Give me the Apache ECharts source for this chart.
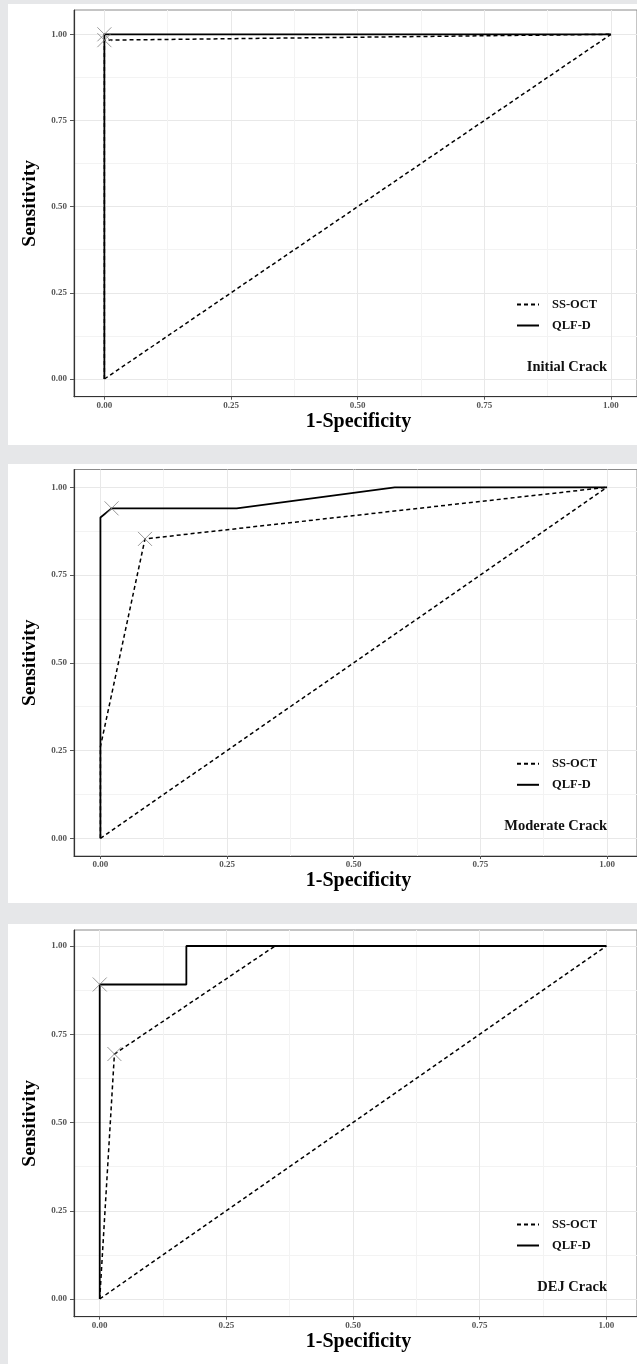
<!DOCTYPE html>
<html><head><meta charset="utf-8">
<script src="https://cdn.jsdelivr.net/npm/echarts@6/dist/echarts.min.js"></script>
<style>html,body{margin:0;padding:0;background:#e6e7e9}#c{width:637px;height:1364px}</style>
</head><body><div id="c"></div>
<script>
// ---- data ----
const majorTicks = [0, 0.25, 0.5, 0.75, 1];
const minorTicks = [0.125, 0.375, 0.625, 0.875];
const tickLabels = ['0.00', '0.25', '0.50', '0.75', '1.00'];
const seriesNames = ['SS-OCT', 'QLF-D'];
const panelLabels = ['Initial Crack', 'Moderate Crack', 'DEJ Crack'];
const xTitle = '1-Specificity';
const yTitle = 'Sensitivity';
const chanceLine = [[0, 0], [1, 1]];

const ssoctInitial = [[0, 0], [0, 0.983], [1, 1]];
const qlfdInitial = [[0, 0], [0, 1], [1, 1]];
const ssoctInitialCut = [[0, 0.983]];
const qlfdInitialCut = [[0, 1]];

const ssoctModerate = [[0, 0], [0, 0.261], [0.088, 0.853], [1, 1]];
const qlfdModerate = [[0, 0], [0, 0.914], [0.022, 0.94], [0.269, 0.94], [0.581, 1], [1, 1]];
const ssoctModerateCut = [[0.088, 0.853]];
const qlfdModerateCut = [[0.022, 0.94]];

const ssoctDEJ = [[0, 0], [0.029, 0.694], [0.346, 1], [1, 1]];
const qlfdDEJ = [[0, 0], [0, 0.891], [0.171, 0.891], [0.171, 1], [1, 1]];
const ssoctDEJCut = [[0.029, 0.694]];
const qlfdDEJCut = [[0, 0.891]];

const panelData = [
  { ssoct: ssoctInitial, qlfd: qlfdInitial, ssoctCut: ssoctInitialCut, qlfdCut: qlfdInitialCut },
  { ssoct: ssoctModerate, qlfd: qlfdModerate, ssoctCut: ssoctModerateCut, qlfdCut: qlfdModerateCut },
  { ssoct: ssoctDEJ, qlfd: qlfdDEJ, ssoctCut: ssoctDEJCut, qlfdCut: qlfdDEJCut }
];

// ---- layout (pixels) ----
const layout = [
  { bg: [8, 4, 629, 441], left: 74, right: 643, top: 10, bottom: 396.7, x0: 104.7, y0: 379, ys: 344.7 },
  { bg: [8, 464, 629, 439], left: 74, right: 643, top: 469.5, bottom: 856, x0: 100.7, y0: 838.3, ys: 351 },
  { bg: [8, 924, 629, 440], left: 74, right: 643, top: 930, bottom: 1316.7, x0: 100, y0: 1299, ys: 353 }
];
const xs = 512;
const FONT = 'Liberation Serif';

const grid = [], xAxis = [], yAxis = [], series = [], legend = [], graphic = [];
const dashed = { color: '#000', width: 1.5, type: [4, 3] };
const solid = { color: '#000', width: 1.8, type: 'solid' };
const xMark = 'path://M0,0L10,10M10,0L0,10';

layout.forEach((L, i) => {
  const xmin = (L.left - L.x0) / xs, xmax = (L.right - L.x0) / xs;
  const ymin = -(L.bottom - L.y0) / L.ys, ymax = (L.y0 - L.top) / L.ys;
  grid.push({ left: L.left, top: L.top, width: L.right - L.left, height: L.bottom - L.top,
    show: true, borderColor: '#8a8a8a', borderWidth: 1, backgroundColor: 'transparent' });
  const fmt = v => { const k = majorTicks.indexOf(v); return k >= 0 ? tickLabels[k] : ''; };
  xAxis.push({ type: 'value', gridIndex: i, position: 'bottom', min: xmin, max: xmax,
    axisLine: { show: true, onZero: false, lineStyle: { color: '#333', width: 1.2 } },
    axisTick: { show: true, length: 3, customValues: majorTicks, lineStyle: { color: '#555' } },
    axisLabel: { customValues: majorTicks, formatter: fmt, margin: 4, fontFamily: FONT, fontSize: 9, fontWeight: 'bold', color: '#555' },
    splitLine: { show: true, lineStyle: { color: '#e8e8e8', width: 1 } } });
  yAxis.push({ type: 'value', gridIndex: i, position: 'left', min: ymin, max: ymax,
    axisLine: { show: true, onZero: false, lineStyle: { color: '#333', width: 1.2 } },
    axisTick: { show: true, length: 4, customValues: majorTicks, lineStyle: { color: '#555' } },
    axisLabel: { customValues: majorTicks, formatter: fmt, margin: 7, fontFamily: FONT, fontSize: 9, fontWeight: 'bold', color: '#555' },
    splitLine: { show: true, lineStyle: { color: '#e8e8e8', width: 1 } } });
  xAxis.push({ type: 'value', gridIndex: i, position: 'bottom', min: xmin, max: xmax,
    axisLine: { show: false }, axisLabel: { show: false },
    axisTick: { show: false, customValues: minorTicks },
    splitLine: { show: true, lineStyle: { color: '#f3f3f3', width: 1 } } });
  yAxis.push({ type: 'value', gridIndex: i, position: 'left', min: ymin, max: ymax,
    axisLine: { show: false }, axisLabel: { show: false },
    axisTick: { show: false, customValues: minorTicks },
    splitLine: { show: true, lineStyle: { color: '#f3f3f3', width: 1 } } });

  const xi = 2 * i, yi = 2 * i;
  const D = panelData[i];
  series.push({ name: 'chance' + i, type: 'line', xAxisIndex: xi, yAxisIndex: yi, data: chanceLine,
    symbol: 'none', lineStyle: dashed, itemStyle: { color: '#000' }, silent: true, z: 2 });
  series.push({ name: seriesNames[1], type: 'line', xAxisIndex: xi, yAxisIndex: yi, data: D.qlfd,
    symbol: 'none', lineStyle: solid, itemStyle: { color: '#000' }, z: 3 });
  series.push({ name: seriesNames[0], type: 'line', xAxisIndex: xi, yAxisIndex: yi, data: D.ssoct,
    symbol: 'none', lineStyle: dashed, itemStyle: { color: '#000' }, z: 4 });
  [D.ssoctCut, D.qlfdCut].forEach((c, k) => {
    series.push({ name: 'cut' + i + k, type: 'scatter', xAxisIndex: xi, yAxisIndex: yi, data: c,
      symbol: xMark, symbolSize: 14, silent: true, z: 5,
      itemStyle: { color: 'rgba(0,0,0,0)', borderColor: '#808080', borderWidth: 1 } });
  });

  legend.push({ data: seriesNames.slice(), orient: 'vertical', left: 516, top: L.y0 - 74 - 7, padding: 0,
    itemWidth: 22, itemHeight: 14, itemGap: 8, selectedMode: false,
    itemStyle: { opacity: 0 },
    textStyle: { fontFamily: FONT, fontWeight: 'bold', fontSize: 12.5, color: '#111', padding: [0, 0, 0, 8] } });

  graphic.push({ type: 'rect', shape: { x: L.bg[0], y: L.bg[1], width: L.bg[2], height: L.bg[3] },
    style: { fill: '#fff' }, z: -100, silent: true });
  graphic.push({ type: 'text', x: 607, y: L.y0 - 12, z: 100,
    style: { text: panelLabels[i], font: 'bold 14.5px "Liberation Serif"', fill: '#111', align: 'right', verticalAlign: 'middle' } });
  graphic.push({ type: 'text', x: (L.left + L.right) / 2, y: L.bottom + 25, z: 100,
    style: { text: xTitle, font: 'bold 20px "Liberation Serif"', fill: '#000', align: 'center', verticalAlign: 'middle' } });
  graphic.push({ type: 'text', x: 30, y: (L.top + L.bottom) / 2, rotation: Math.PI / 2, z: 100,
    style: { text: yTitle, font: 'bold 19.5px "Liberation Serif"', fill: '#000', align: 'center', verticalAlign: 'middle' } });
});

const chart = echarts.init(document.getElementById('c'), null, { renderer: 'canvas' });
chart.setOption({
  backgroundColor: '#e6e7e9',
  animation: false,
  grid, xAxis, yAxis, series, legend,
  graphic: { elements: graphic }
});
</script></body></html>
